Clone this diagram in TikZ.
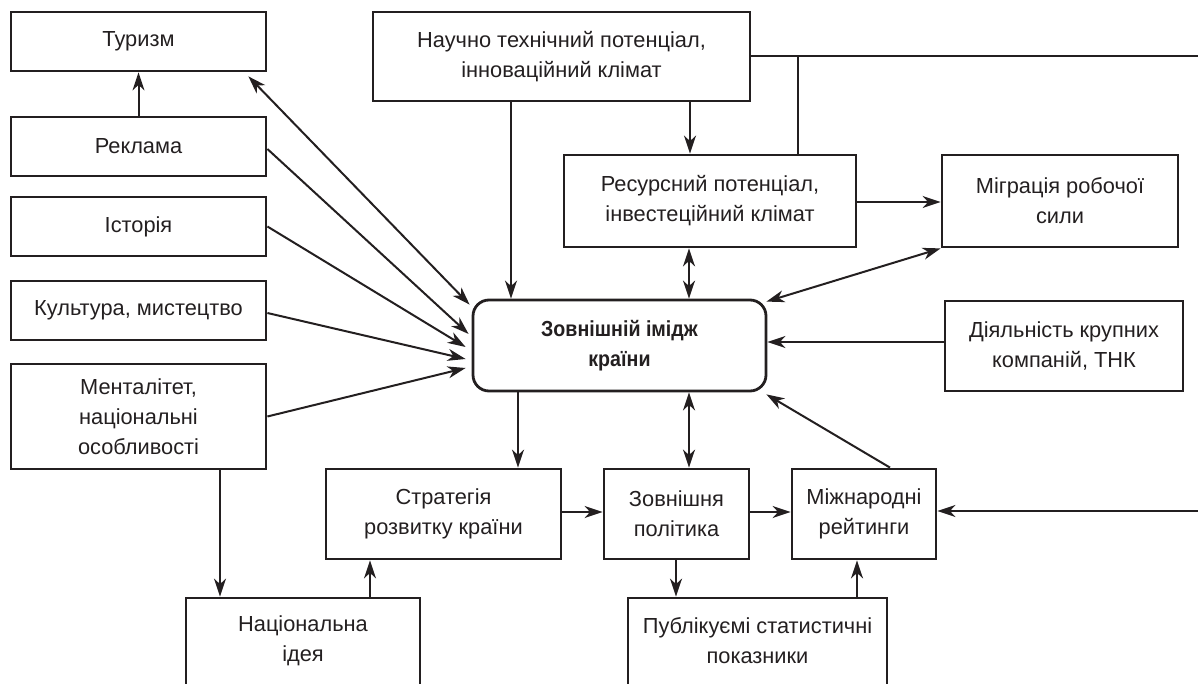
\documentclass[tikz,border=0pt]{standalone}
\usepackage{fontspec}
\setmainfont{Liberation Sans}
\newfontfamily\cenfont[FakeStretch=0.9]{Liberation Sans}
\usetikzlibrary{arrows.meta}
\definecolor{ink}{HTML}{231F20}
\tikzset{
  box/.style={draw=ink, line width=2.8pt, text=ink, align=center, inner sep=2pt,
    font=\fontsize{21.8}{30}\selectfont},
  conn/.style={draw=ink, line width=2pt},
  tip/.tip={Stealth[length=18pt,width=12pt,inset=5.5pt]},
  arr/.style={conn, -tip},
  darr/.style={conn, tip-tip}
}
\begin{document}
\begin{tikzpicture}[x=1pt,y=-1pt]
\useasboundingbox (0,0) rectangle (1198,684);
\clip (0,0) rectangle (1198,684);
% left column
\node[box, minimum width=255pt, minimum height=59pt] (tur) at (138.5,41.5) {Туризм};
\node[box, minimum width=255pt, minimum height=59pt] (rek) at (138.5,146.5) {Реклама};
\node[box, minimum width=255pt, minimum height=59pt] (ist) at (138.5,226.5) {Історія};
\node[box, minimum width=255pt, minimum height=59pt] (kul) at (138.5,310.5) {Культура, мистецтво};
\node[box, minimum width=255pt, minimum height=105pt] (men) at (138.5,416.5) {Менталітет,\\ національні\\ особливості};
% top
\node[box, minimum width=377pt, minimum height=89pt] (nau) at (561.5,56.5) {Научно технічний потенціал,\\ інноваційний клімат};
\node[box, minimum width=292pt, minimum height=92pt] (res) at (710,201) {Ресурсний потенціал,\\ інвестеційний клімат};
\node[box, minimum width=236pt, minimum height=92pt] (mig) at (1060,201) {Міграція робочої\\ сили};
% center
\node[box, rounded corners=16pt, minimum width=293pt, minimum height=91pt] (cen) at (619.5,345.5)
  {\cenfont\bfseries Зовнішній імідж\\ \cenfont\bfseries країни};
\node[box, minimum width=238pt, minimum height=90pt] (dia) at (1064,346) {Діяльність крупних\\ компаній, ТНК};
% bottom row
\node[box, minimum width=235pt, minimum height=90pt] (str) at (443.5,514) {Стратегія\\ розвитку країни};
\node[box, minimum width=145pt, minimum height=90pt] (zov) at (676.5,514) {Зовнішня\\ політика};
\node[box, minimum width=144pt, minimum height=90pt] (mij) at (864,514) {Міжнародні\\ рейтинги};
\node[box, minimum width=234pt, minimum height=122pt] (nat) at (303,659) {};
\node[box, draw=none] (natt) at (303,641) {Національна\\ ідея};
\node[box, minimum width=259pt, minimum height=122pt] (pub) at (757.5,659) {};
\node[box, draw=none] (pubt) at (757.5,641) {Публікуємі статистичні\\ показники};
% coordinates for free ends
\coordinate (rt) at (1198,56.5);
\coordinate (j1) at (798,56.5);
\coordinate (rb) at (1198,511);
% connectors
\draw[arr] (rek) -- (tur);
\draw[darr] ([xshift=-2pt,yshift=-6pt]cen.north west) -- ([xshift=-19pt,yshift=-4pt]tur.south east);
\draw[arr] ([yshift=-2.5pt]rek.east) -- ([xshift=-3pt,yshift=11.5pt]cen.west);
\draw[arr] (ist.east) -- ([xshift=-6pt,yshift=-1.5pt]cen.west);
\draw[arr] ([yshift=-2.5pt]kul.east) -- ([xshift=-6pt,yshift=-13.5pt]cen.west);
\draw[arr] (men.east) -- ([xshift=-6pt,yshift=-22.5pt]cen.west);
\draw[arr] ([xshift=-50.5pt]nau.south) -- ([xshift=-50.5pt]nau.south |- cen.north);
\draw[arr] ([xshift=128.5pt]nau.south) -- ([xshift=128.5pt]nau.south |- res.north);
\draw[conn] (nau.east) -- (rt);
\draw[conn] (j1) -- (j1 |- res.north);
\draw[arr] ([yshift=-1pt]res.east) -- ([yshift=-1pt]mig.west);
\draw[darr] ([xshift=-21pt]res.south) -- ([xshift=-21pt]res.south |- cen.north);
\draw[darr] ([xshift=-1pt,yshift=-3pt]cen.north east) -- (mig.south west);
\draw[arr] ([yshift=4pt]dia.west) -- ([yshift=4pt]dia.west -| cen.east);
\draw[arr] ([xshift=26pt]mij.north) -- ([xshift=-1pt,yshift=-2pt]cen.south east);
\draw[arr] ([xshift=-101.5pt]cen.south) -- ([xshift=-101.5pt]cen.south |- str.north);
\draw[darr] ([xshift=69.5pt]cen.south) -- ([xshift=69.5pt]cen.south |- zov.north);
\draw[arr] ([yshift=2pt]str.east) -- ([yshift=2pt]zov.west);
\draw[arr] ([yshift=2pt]zov.east) -- ([yshift=2pt]mij.west);
\draw[arr] (rb) -- (rb -| mij.east);
\draw[arr] ([xshift=81.5pt]men.south) -- ([xshift=81.5pt]men.south |- nat.north);
\draw[arr] ([xshift=67pt]nat.north) -- ([xshift=67pt]nat.north |- str.south);
\draw[arr] ([xshift=-0.5pt]zov.south) -- ([xshift=-0.5pt]zov.south |- pub.north);
\draw[arr] ([xshift=99.5pt]pub.north) -- ([xshift=99.5pt]pub.north |- mij.south);
\end{tikzpicture}
\end{document}
